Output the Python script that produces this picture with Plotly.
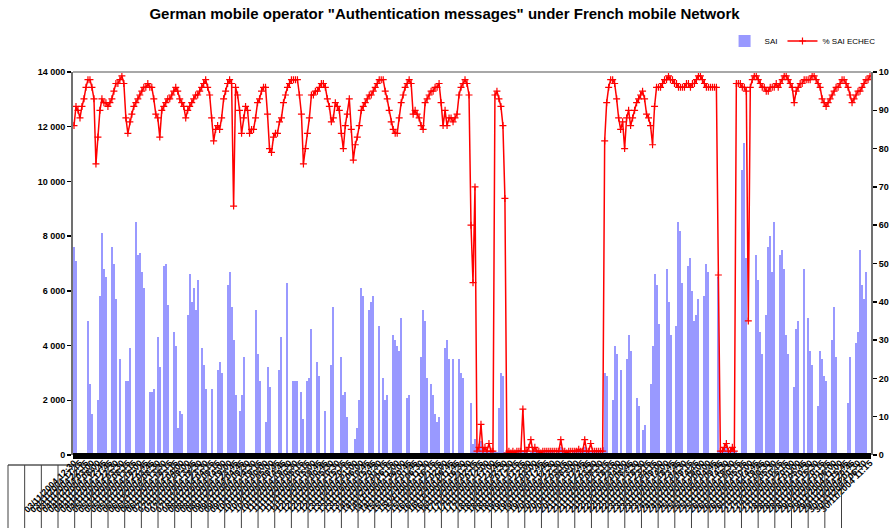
import plotly.graph_objects as go
import pandas as pd

# ---------------- data ----------------
start_time = "2004-11-03 12:30"
end_time = "2004-11-30 11:15"
n_points = 400

sai = [
    7600, 7100, 0, 0, 0, 0, 0, 4900, 2600, 1500, 0, 0, 2000, 5800, 8100, 6800, 6500, 0, 0, 7600,
    7000, 5700, 0, 3500, 0, 0, 2700, 2700, 3900, 0, 0, 8500, 7300, 7400, 6700, 6100, 0, 0, 2300, 2300,
    2400, 0, 4300, 3200, 0, 6900, 7000, 5500, 0, 0, 4500, 4000, 1000, 1600, 1500, 0, 0, 5100, 6600, 5600,
    6100, 5300, 6400, 0, 3900, 3300, 2400, 0, 0, 2400, 0, 0, 3100, 3400, 3000, 0, 0, 6200, 6700, 5400,
    4200, 2200, 0, 1600, 2200, 3600, 0, 0, 0, 0, 0, 5300, 3700, 2700, 0, 0, 1200, 3200, 2500, 0,
    0, 0, 0, 3100, 4300, 0, 0, 6300, 0, 0, 2700, 2700, 2700, 0, 2300, 1300, 0, 2700, 2800, 4600,
    0, 0, 3400, 2900, 0, 0, 1600, 0, 0, 3300, 5400, 0, 0, 0, 3600, 2200, 2300, 1400, 0, 0,
    0, 600, 1000, 2000, 6100, 5800, 0, 0, 5300, 5600, 5800, 0, 0, 4700, 0, 2800, 2000, 2200, 0, 0,
    4400, 4200, 4000, 3800, 5000, 0, 0, 2100, 2200, 0, 0, 0, 0, 0, 3600, 5300, 4900, 2800, 0, 2600,
    2200, 1500, 1200, 1400, 0, 0, 3900, 4200, 3500, 0, 3500, 0, 0, 3500, 3000, 2800, 0, 0, 0, 1900,
    400, 600, 200, 300, 500, 150, 100, 200, 150, 100, 200, 150, 100, 1700, 3000, 2900, 100, 50, 100, 150,
    100, 50, 100, 200, 100, 100, 150, 100, 50, 100, 200, 100, 150, 100, 50, 100, 100, 150, 100, 200,
    100, 50, 100, 150, 300, 100, 100, 150, 100, 50, 100, 100, 150, 100, 100, 200, 300, 100, 100, 150,
    100, 200, 100, 150, 200, 300, 3000, 2900, 0, 0, 2000, 4000, 3700, 0, 3100, 0, 0, 3500, 4400, 3800,
    0, 0, 2100, 1800, 0, 900, 1100, 0, 0, 2600, 4000, 6600, 6200, 4800, 0, 0, 0, 6800, 5600, 4400,
    0, 0, 4700, 8500, 8200, 6300, 0, 0, 6900, 7200, 6000, 4900, 5100, 5700, 0, 0, 5800, 7000, 6700, 0,
    0, 0, 0, 6500, 150, 100, 200, 300, 100, 150, 200, 100, 150, 0, 0, 10400, 11400, 7200, 0, 0,
    0, 0, 7300, 6400, 4500, 3700, 0, 5100, 7600, 8000, 6700, 8500, 0, 0, 7300, 7500, 6800, 4400, 3700, 0,
    0, 2500, 4600, 4900, 0, 0, 6800, 0, 5000, 3800, 3300, 0, 0, 1800, 3800, 3500, 2900, 2700, 0, 0,
    4200, 5400, 3600, 0, 0, 0, 0, 0, 1900, 3600, 0, 0, 4100, 4500, 7500, 6200, 5700, 6700, 0, 0,
]

pct_echec = [
    86, 91, 90, 88, 91, 93, 96, 98, 98, 96, 93, 76, 83, 90, 93, 92, 92, 91, 92, 93,
    95, 97, 97, 98, 99, 97, 88, 84, 87, 89, 91, 92, 93, 94, 95, 96, 96, 97, 96, 96,
    93, 89, 88, 83, 90, 91, 92, 93, 93, 94, 95, 96, 95, 93, 92, 91, 88, 90, 91, 92,
    93, 94, 94, 95, 96, 97, 98, 96, 94, 88, 82, 85, 86, 85, 88, 93, 95, 97, 98, 97,
    65, 96, 94, 90, 84, 88, 91, 90, 84, 85, 85, 88, 92, 93, 95, 96, 96, 89, 80, 79,
    83, 84, 84, 87, 88, 92, 94, 96, 97, 98, 98, 98, 98, 94, 89, 76, 80, 84, 88, 94,
    94, 95, 95, 96, 97, 97, 96, 93, 91, 87, 88, 92, 91, 90, 84, 80, 86, 89, 93, 85,
    77, 81, 83, 86, 90, 91, 92, 93, 94, 94, 95, 96, 97, 98, 98, 98, 95, 93, 90, 87,
    85, 84, 84, 88, 92, 94, 96, 97, 98, 97, 89, 90, 89, 88, 86, 85, 92, 93, 94, 95,
    95, 96, 96, 97, 92, 86, 90, 86, 88, 88, 87, 88, 89, 94, 96, 97, 98, 97, 94, 60,
    45, 70, 1, 2, 8, 1, 2, 1, 3, 1, 1, 94, 95, 93, 91, 86, 67, 0.5, 1, 0.5,
    1, 0.5, 1, 1, 1, 12, 1, 1, 2, 4, 1, 2, 1, 1, 0.5, 1, 1, 1, 1, 1,
    1, 1, 1, 1, 4, 1, 1, 0.5, 1, 1, 1, 1, 1, 1.5, 1, 1, 4, 1, 1, 3,
    1, 1, 1, 1, 1, 1, 82, 92, 96, 98, 98, 97, 93, 88, 85, 87, 80, 88, 90, 86,
    88, 90, 92, 93, 94, 95, 93, 89, 88, 86, 81, 91, 96, 96, 96, 97, 98, 98, 99, 98,
    98, 97, 97, 96, 96, 96, 96, 97, 97, 96, 97, 97, 98, 99, 99, 98, 97, 96, 96, 96,
    96, 96, 96, 47, 1, 1, 2, 3, 1, 1, 2, 1, 97, 97, 97, 96, 96, 95, 35, 96,
    98, 99, 99, 98, 97, 96, 96, 95, 95, 96, 96, 96, 97, 96, 97, 98, 99, 99, 98, 97,
    96, 92, 95, 96, 97, 97, 98, 98, 98, 98, 99, 99, 98, 97, 96, 93, 92, 91, 92, 93,
    94, 95, 96, 96, 97, 98, 98, 97, 96, 94, 92, 93, 94, 95, 95, 96, 97, 98, 98, 99,
]

times = pd.date_range(start_time, end_time, periods=n_points).round("15min")
time_labels = [t.strftime("%d/%m/%Y %H:%M") for t in times]
idx = list(range(n_points))

left_ticks = [0, 2000, 4000, 6000, 8000, 10000, 12000, 14000]
left_ticktext = ["0", "2 000", "4 000", "6 000", "8 000", "10 000", "12 000", "14 000"]
right_ticks = [0, 10, 20, 30, 40, 50, 60, 70, 80, 90, 100]

label_step = 3

# ---------------- figure ----------------
FONT = "Liberation Sans, Arial, sans-serif"

fig = go.Figure()
fig.add_bar(
    x=idx, y=sai, name="SAI",
    marker=dict(color="#9999FF", line=dict(width=0)),
    yaxis="y",
)
fig.add_scatter(
    x=idx, y=pct_echec, name="% SAI ECHEC",
    mode="lines+markers",
    line=dict(color="#FF0000", width=1.5),
    marker=dict(symbol="cross-thin", size=5, color="#FF0000",
                line=dict(color="#FF0000", width=1.2)),
    yaxis="y2",
)

W, H = 889, 528
L, R, T, B = 73, 18, 72, 73
plot_w = W - L - R
plot_h = H - T - B

shapes = []
# thick black band along the category axis (drawn on top, just under the near-zero line)
shapes.append(dict(type="rect", xref="paper", yref="paper", x0=0, x1=1,
                   y0=-4 / plot_h, y1=2 / plot_h,
                   fillcolor="black", line=dict(width=0), layer="above"))
# top frame line
shapes.append(dict(type="line", xref="paper", yref="paper", x0=0, x1=1, y0=1, y1=1,
                   line=dict(color="#A8A8A8", width=2), layer="above"))
# category label boxes (decoration under the axis)
y_top = (H - B - 465) / plot_h
y_bot = (H - B - 530) / plot_h
box_left_px, box_right_px, box_pitch = 8, 852, 16.67
shapes.append(dict(type="line", xref="paper", yref="paper",
                   x0=(box_left_px - L) / plot_w, x1=(box_right_px - L) / plot_w,
                   y0=y_top, y1=y_top, line=dict(color="black", width=1)))
k = 0
while box_left_px + k * box_pitch <= box_right_px:
    px = box_left_px + k * box_pitch
    shapes.append(dict(type="line", xref="paper", yref="paper",
                       x0=(px - L) / plot_w, x1=(px - L) / plot_w,
                       y0=y_top, y1=y_bot, line=dict(color="#404040", width=1)))
    k += 1

fig.update_layout(
    template="none",
    width=W, height=H,
    margin=dict(l=L, r=R, t=T, b=B, autoexpand=False),
    paper_bgcolor="white", plot_bgcolor="rgba(0,0,0,0)",
    bargap=0,
    font=dict(family=FONT, color="black", size=9),
    title=dict(
        text='German mobile operator "Authentication messages" under French mobile Network',
        x=0.5, xref="container", xanchor="center",
        y=1 - 14 / H, yref="container", yanchor="middle",
        font=dict(family=FONT, size=15, color="black", weight="bold"),
    ),
    showlegend=True,
    legend=dict(
        orientation="h", x=1.012, xanchor="right", y=1 + 31 / plot_h, yanchor="middle",
        xref="paper", yref="paper",
        font=dict(family=FONT, size=8, color="black"),
        bgcolor="rgba(0,0,0,0)", itemwidth=30, traceorder="normal",
    ),
    xaxis=dict(
        range=[-0.5, n_points - 0.5],
        tickmode="array",
        tickvals=idx[::label_step],
        ticktext=time_labels[::label_step],
        tickangle=-45,
        tickfont=dict(family=FONT, size=9, color="black", weight="bold"),
        showgrid=False, zeroline=False, showline=False, ticks="",
        automargin=False,
    ),
    yaxis=dict(
        range=[0, 14000],
        tickmode="array", tickvals=left_ticks, ticktext=left_ticktext,
        showgrid=False, zeroline=False,
        showline=True, linecolor="#707070", linewidth=2,
        ticks="outside", ticklen=4, tickcolor="black", tickwidth=1.5,
        tickfont=dict(family=FONT, size=9, color="black", weight="bold"),
        automargin=False,
    ),
    yaxis2=dict(
        range=[0, 100], overlaying="y", side="right",
        tickmode="array", tickvals=right_ticks,
        showgrid=False, zeroline=False,
        showline=True, linecolor="#707070", linewidth=2,
        ticks="outside", ticklen=4, tickcolor="black", tickwidth=1.5,
        tickfont=dict(family=FONT, size=9, color="black", weight="bold"),
        automargin=False,
    ),
    shapes=shapes,
)

fig.write_html(
    "out.html",
    config={"displayModeBar": False, "staticPlot": True},
    post_script="document.body.style.margin='0px';",
)
